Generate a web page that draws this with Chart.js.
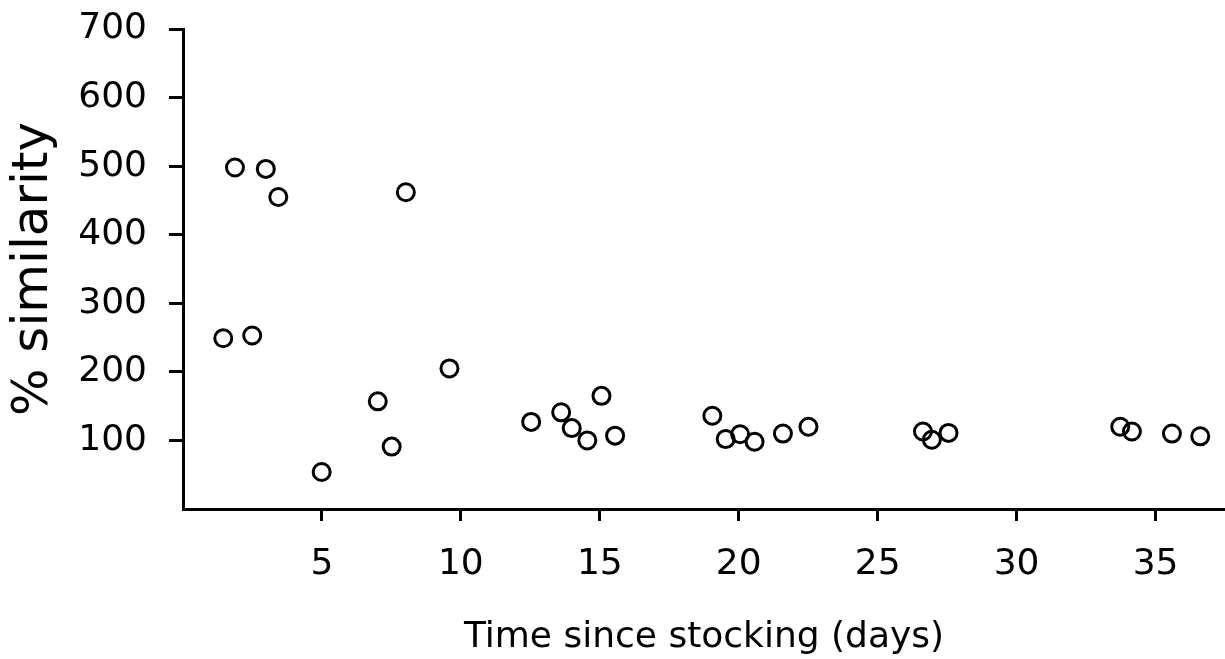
<!DOCTYPE html>
<html>
<head>
<meta charset="utf-8">
<script src="https://cdn.jsdelivr.net/npm/chart.js@4"></script>
<style>
  html, body { margin: 0; padding: 0; background: #fff; }
  #wrap { width: 1225px; height: 659px; position: relative; }
</style>
</head>
<body>
<div id="wrap"><canvas id="similarityChart"></canvas></div>
<script>
// Data
const days = [1.45, 2.49, 1.87, 2.98, 3.43, 8.02, 4.99, 7.01, 7.51, 9.59,
              12.53, 13.61, 13.99, 14.55, 15.06, 15.55,
              19.05, 19.53, 20.05, 20.57, 21.59, 22.51,
              26.63, 26.95, 27.55, 33.73, 34.15, 35.59, 36.61];
const similarity = [249, 253, 498, 496, 455, 462, 54, 157, 91, 205,
                    127, 141, 118, 100, 165, 107,
                    136, 102, 109, 98, 110, 120,
                    113, 101, 111, 120, 113, 110, 106];
const xTicks = [5, 10, 15, 20, 25, 30, 35];
const yTicks = [100, 200, 300, 400, 500, 600, 700];

const points = days.map((d, i) => ({ x: d, y: similarity[i] }));

const axisFont = { family: 'DejaVu Sans', size: 36 };

const ctx = document.getElementById('similarityChart');
new Chart(ctx, {
    type: 'scatter',
    data: {
        datasets: [{
            data: points,
            pointStyle: 'circle',
            pointRadius: 8.5,
            pointBorderWidth: 3,
            borderColor: '#000',
            backgroundColor: 'rgba(255,255,255,0)'
        }]
    },
    options: {
        responsive: true,
        maintainAspectRatio: false,
        animation: false,
        layout: { autoPadding: false, padding: { top: 29, right: 0, left: 0, bottom: 0 } },
        plugins: {
            legend: { display: false },
            tooltip: { enabled: false }
        },
        scales: {
            x: {
                type: 'linear',
                min: 0,
                max: 37.5,
                afterBuildTicks: scale => {
                    scale.ticks = xTicks.map(v => ({ value: v }));
                },
                afterFit: scale => {
                    scale.height = 150;
                    scale.paddingLeft = 0;
                    scale.paddingRight = 0;
                },
                border: { color: '#000', width: 3 },
                grid: { drawOnChartArea: false, drawTicks: true, tickLength: 12, color: '#000', lineWidth: 3 },
                ticks: { color: '#000', font: axisFont, padding: 22, maxRotation: 0 },
                title: {
                    display: true,
                    text: 'Time since stocking (days)',
                    color: '#000',
                    font: { family: 'DejaVu Sans', size: 36 },
                    padding: { top: 12, bottom: 0 }
                }
            },
            y: {
                min: 0,
                max: 700,
                afterBuildTicks: scale => {
                    scale.ticks = yTicks.map(v => ({ value: v }));
                },
                afterFit: scale => {
                    scale.width = 183;
                    scale.paddingTop = 0;
                    scale.paddingBottom = 0;
                },
                border: { color: '#000', width: 3 },
                grid: { drawOnChartArea: false, drawTicks: true, tickLength: 14, color: '#000', lineWidth: 3 },
                ticks: { color: '#000', font: axisFont, padding: 22 },
                title: {
                    display: true,
                    text: '% similarity',
                    color: '#000',
                    font: { family: 'DejaVu Sans', size: 50 },
                    padding: { top: 4, bottom: 0 }
                }
            }
        }
    }
});
</script>
</body>
</html>
